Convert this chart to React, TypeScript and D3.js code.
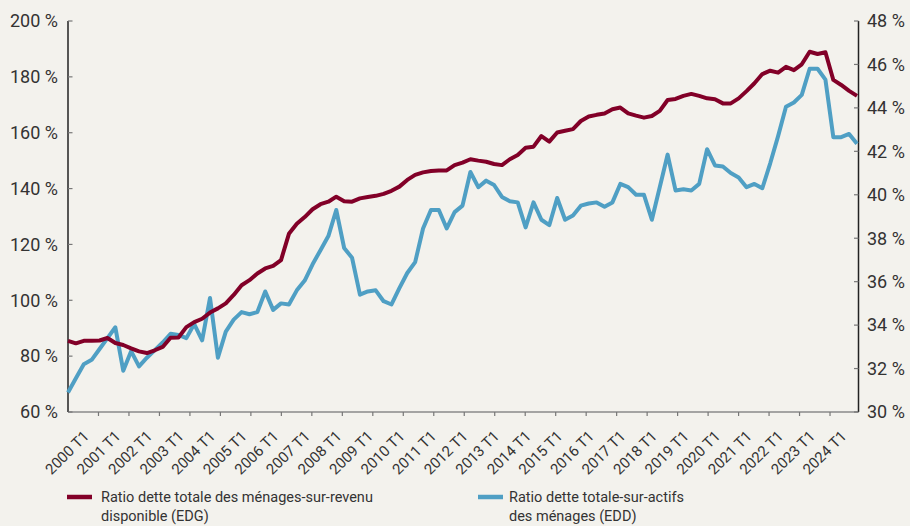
import * as d3 from "d3";

// trimestres 2000 T1 -> 2025 T1
const years = d3.range(2000, 2026);
const quarters = years.flatMap((y) => [`${y} T1`, `${y} T2`, `${y} T3`, `${y} T4`]).slice(0, 101);
const labelQuarters = d3.range(2000, 2025).map((y) => `${y} T1`);

const leftTicks = [60, 80, 100, 120, 140, 160, 180, 200];
const rightTicks = [30, 32, 34, 36, 38, 40, 42, 44, 46, 48];

// Ratio dette totale des ménages-sur-revenu disponible (EDG), axe gauche
const edg = [
  85.5, 84.6, 85.5, 85.5, 85.6, 86.5, 84.7, 84.0, 82.8, 81.7, 81.1, 82.1, 83.3,
  86.6, 86.7, 90.4, 92.2, 93.4, 95.6, 97.1, 98.9, 101.9, 105.4, 107.2, 109.6,
  111.4, 112.3, 114.4, 123.8, 127.4, 129.8, 132.6, 134.4, 135.3, 137.1, 135.5,
  135.3, 136.5, 137.0, 137.4, 138.1, 139.2, 140.7, 143.1, 144.9, 145.8, 146.3,
  146.5, 146.5, 148.4, 149.3, 150.5, 150.0, 149.6, 148.8, 148.4, 150.5, 152.0,
  154.6, 155.0, 158.8, 156.8, 160.1, 160.7, 161.3, 164.2, 165.8, 166.4, 166.9,
  168.4, 169.0, 166.9, 166.1, 165.4, 166.0, 167.8, 171.7, 172.1, 173.2, 173.9,
  173.2, 172.3, 172.0, 170.5, 170.5, 172.3, 174.9, 177.7, 181.0, 182.2, 181.5,
  183.6, 182.4, 184.5, 189.0, 188.2, 188.8, 178.9, 177.1, 175.0, 173.2,
];

// Ratio dette totale-sur-actifs des ménages (EDD), axe droit
const edd = [
  30.9, 31.55, 32.2, 32.4, 32.9, 33.4, 33.9, 31.9, 32.8, 32.1, 32.5, 32.85, 33.2,
  33.6, 33.55, 33.4, 34.05, 33.3, 35.25, 32.5, 33.7, 34.25, 34.6, 34.5, 34.6,
  35.55, 34.7, 35.0, 34.95, 35.6, 36.05, 36.8, 37.45, 38.1, 39.3, 37.55, 37.1,
  35.4, 35.55, 35.6, 35.1, 34.95, 35.7, 36.4, 36.9, 38.45, 39.3, 39.3, 38.45,
  39.2, 39.5, 41.05, 40.35, 40.65, 40.45, 39.9, 39.7, 39.65, 38.5, 39.65, 38.85,
  38.6, 39.85, 38.85, 39.05, 39.5, 39.6, 39.65, 39.45, 39.65, 40.5, 40.35, 40.0,
  40.0, 38.85, 40.35, 41.85, 40.2, 40.25, 40.2, 40.5, 42.1, 41.35, 41.3, 41.0,
  40.8, 40.35, 40.5, 40.3, 41.45, 42.7, 44.05, 44.25, 44.6, 45.8, 45.8, 45.3,
  42.65, 42.65, 42.8, 42.35,
];

const RED = "#820028";
const BLUE = "#4f9fc4";
const TEXT = "#333";
const FONT = "Roboto, sans-serif";

export default function App() {
  const width = 910;
  const height = 526;
  const left = 68;
  const right = 858.5;
  const top = 21;
  const bottom = 412;

  const x = d3.scalePoint<string>().domain(quarters).range([left, 857]);
  const yL = d3.scaleLinear().domain([60, 200]).range([bottom, top]);
  const yR = d3.scaleLinear().domain([30, 48]).range([bottom, top]);
  const tickX = d3.scaleLinear().domain([0, 26]).range([left, 860.5]);

  const lineL = d3
    .line<number>()
    .x((_, i) => x(quarters[i])!)
    .y((d) => yL(d));
  const lineR = d3
    .line<number>()
    .x((_, i) => x(quarters[i])!)
    .y((d) => yR(d));

  return (
    <svg
      width={width}
      height={height}
      style={{ position: "absolute", left: 0, top: 0, background: "#f3f2ed" }}
      fontFamily={FONT}
    >
      <rect width={width} height={height} fill="#f3f2ed" />

      {/* axe des x */}
      <line x1={left} x2={right} y1={bottom} y2={bottom} stroke="#8a8a8a" strokeWidth={1.5} />
      {d3.range(1, 26).map((k) => (
        <line key={k} x1={tickX(k)} x2={tickX(k)} y1={bottom} y2={bottom + 4} stroke="#777" strokeWidth={1.2} />
      ))}
      {labelQuarters.map((q) => (
        <text
          key={q}
          transform={`translate(${x(q)! + 22},${bottom + 25}) rotate(-45)`}
          textAnchor="end"
          fontSize={15}
          fill={TEXT}
        >
          {q}
        </text>
      ))}

      {/* axe gauche */}
      <line x1={left} x2={left} y1={top} y2={bottom} stroke="#222" strokeWidth={1.5} />
      {leftTicks.map((t) => (
        <g key={t}>
          <line x1={left} x2={left + 4.5} y1={yL(t)} y2={yL(t)} stroke="#777" strokeWidth={1.2} />
          <text x={58} y={yL(t)} dy="0.35em" textAnchor="end" fontSize={18} fill={TEXT}>
            {t} %
          </text>
        </g>
      ))}

      {/* axe droit */}
      <line x1={right} x2={right} y1={top} y2={bottom} stroke="#222" strokeWidth={1.5} />
      {rightTicks.map((t) => (
        <g key={t}>
          <line x1={right - 4.5} x2={right} y1={yR(t)} y2={yR(t)} stroke="#777" strokeWidth={1.2} />
          <text x={867} y={yR(t)} dy="0.35em" textAnchor="start" fontSize={18} fill={TEXT}>
            {t} %
          </text>
        </g>
      ))}

      {/* séries */}
      <path d={lineR(edd)!} fill="none" stroke={BLUE} strokeWidth={4} strokeLinejoin="round" />
      <path d={lineL(edg)!} fill="none" stroke={RED} strokeWidth={4} strokeLinejoin="round" />

      {/* légende */}
      <g fontSize={14.5} fill={TEXT}>
        <line x1={67} x2={92} y1={497} y2={497} stroke={RED} strokeWidth={4.5} />
        <text x={101} y={502}>Ratio dette totale des ménages-sur-revenu</text>
        <text x={101} y={521}>disponible (EDG)</text>
        <line x1={478} x2={503} y1={497} y2={497} stroke={BLUE} strokeWidth={4.5} />
        <text x={509} y={502}>Ratio dette totale-sur-actifs</text>
        <text x={509} y={521}>des ménages (EDD)</text>
      </g>
    </svg>
  );
}
